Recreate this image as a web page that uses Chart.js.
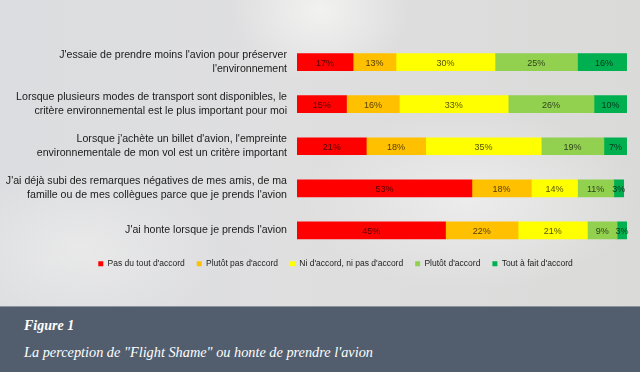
<!DOCTYPE html>
<html>
<head>
<meta charset="utf-8">
<script src="https://cdn.jsdelivr.net/npm/chart.js@4"></script>
<style>
  html, body { margin: 0; padding: 0; }
  body {
    width: 640px; height: 372px; overflow: hidden;
    background: #dadada;
  }
  .top {
    position: absolute; left: 0; top: 0; width: 640px; height: 306px;
    background:
      radial-gradient(ellipse 110px 90px at 320px 10px, rgba(242,242,241,1), rgba(242,242,241,0) 80%),
      radial-gradient(ellipse 240px 130px at 470px 200px, rgba(240,240,240,0.8), rgba(240,240,240,0) 70%),
      radial-gradient(ellipse 200px 120px at 80px 250px, rgba(236,236,236,0.8), rgba(236,236,236,0) 70%),
      linear-gradient(90deg, #dcdde0 0%, #dfdfe0 45%, #dadad9 100%);
  }
  .caption {
    position: absolute; left: 0; top: 306px; width: 640px; height: 66px;
    background: #525e6e; border-top: 1px solid #8a939e; box-sizing: border-box;
    color: #fff; font-family: "Liberation Serif", "DejaVu Serif", serif; font-style: italic;
  }
  .caption .t1 { position: absolute; left: 24px; top: 11px; font-size: 14px; font-weight: bold; }
  .caption .t2 { position: absolute; left: 24px; top: 37px; font-size: 14.3px; }
  #wrap { position: absolute; left: 0; top: 0; width: 640px; height: 306px; }
</style>
</head>
<body>
<div class="top"></div>
<div id="wrap"><canvas id="chart"></canvas></div>
<div class="caption">
  <div class="t1">Figure 1</div>
  <div class="t2">La perception de "Flight Shame" ou honte de prendre l'avion</div>
</div>
<script>
const categories = [
  ["J'essaie de prendre moins l'avion pour préserver", "l'environnement"],
  ["Lorsque plusieurs modes de transport sont disponibles, le", "critère environnemental est le plus important pour moi"],
  ["Lorsque j'achète un billet d'avion, l'empreinte", "environnementale de mon vol est un critère important"],
  ["J'ai déjà subi des remarques négatives de mes amis, de ma", "famille ou de mes collègues parce que je prends l'avion"],
  "J'ai honte lorsque je prends l'avion"
];
const seriesNames = ["Pas du tout d'accord", "Plutôt pas d'accord", "Ni d'accord, ni pas d'accord", "Plutôt d'accord", "Tout à fait d'accord"];
const pasDuTout = [17, 15, 21, 53, 45];
const plutotPas = [13, 16, 18, 18, 22];
const niNi = [30, 33, 35, 14, 21];
const plutot = [25, 26, 19, 11, 9];
const toutAFait = [16, 10, 7, 3, 3];
const colors = ['#ff0000', '#ffc000', '#ffff00', '#92d050', '#00b050'];

const values = [pasDuTout, plutotPas, niNi, plutot, toutAFait];

// draw the % inside each segment
const barLabels = {
  id: 'barLabels',
  afterDatasetsDraw(chart) {
    const ctx = chart.ctx;
    ctx.save();
    ctx.font = '9px "Liberation Sans", Arial, sans-serif';
    ctx.fillStyle = 'rgba(0,0,0,0.7)';
    ctx.textAlign = 'center';
    ctx.textBaseline = 'middle';
    chart.data.datasets.forEach((ds, i) => {
      chart.getDatasetMeta(i).data.forEach((bar, j) => {
        const x = (bar.x + bar.base) / 2;
        ctx.fillText(ds.data[j] + '%', x, bar.y + 1);
      });
    });
    ctx.restore();
  }
};

// legend in the source sits a bit right of centre and a little higher
const nudgeLegend = {
  id: 'nudgeLegend',
  afterLayout(chart) {
    const lg = chart.legend;
    lg.left += 22;
    lg.right += 22;
    lg.top -= 4;
    lg.bottom -= 4;
  }
};

new Chart(document.getElementById('chart'), {
  type: 'bar',
  data: {
    labels: categories,
    datasets: values.map((v, i) => ({
      label: seriesNames[i],
      data: v,
      backgroundColor: colors[i],
      borderWidth: 0,
      barThickness: 17
    }))
  },
  options: {
    indexAxis: 'y',
    responsive: true,
    maintainAspectRatio: false,
    animation: false,
    layout: { padding: { top: 41, right: 13, bottom: 24, left: 0 } },
    scales: {
      x: {
        stacked: true, min: 0, max: 100,
        display: false
      },
      y: {
        stacked: true,
        grid: { display: false, drawTicks: false },
        border: { display: false },
        afterFit(scale) { scale.width = 297; },
        ticks: {
          padding: 10,
          color: '#1a1a1a',
          font: { family: '"Liberation Sans", Arial, sans-serif', size: 10.6, lineHeight: 1.33 }
        }
      }
    },
    plugins: {
      legend: {
        position: 'bottom',
        labels: {
          boxWidth: 5, boxHeight: 5, padding: 12,
          color: '#222',
          font: { family: '"Liberation Sans", Arial, sans-serif', size: 8.5 }
        }
      },
      tooltip: { enabled: false }
    }
  },
  plugins: [barLabels, nudgeLegend]
});
</script>
</body>
</html>
